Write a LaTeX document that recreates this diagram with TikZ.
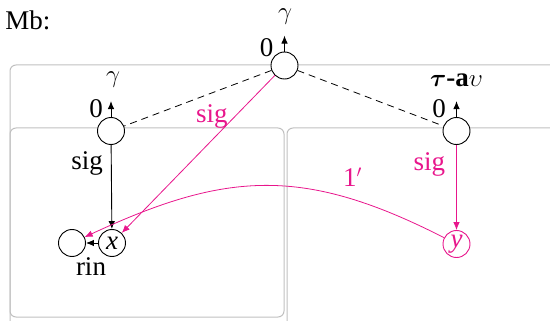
\documentclass[tikz,border=0pt]{standalone}
\usepackage{amsmath}
\usepackage{fontspec}
\setmainfont{Liberation Serif}
\usetikzlibrary{arrows.meta}
\definecolor{sigpink}{RGB}{232,22,140}
\definecolor{boxgray}{RGB}{192,192,192}
\begin{document}
\begin{tikzpicture}[x=1pt, y=-1pt, node distance=40pt, >={Latex[length=8pt,width=6.5pt]},
  every node/.style={font=\fontsize{27}{30}\selectfont, inner sep=0pt},
  port/.style={draw, circle, fill=white, minimum size=27pt, inner sep=0pt, line width=0.9pt},
  frame/.style={draw=boxgray, line width=1pt, rounded corners=6pt},
  wire/.style={line width=0.9pt},
  pinkwire/.style={sigpink, line width=0.8pt}]
\useasboundingbox (0,0) rectangle (550,321);
\clip (0,0) rectangle (550,321);
\node (mb) at (28,20) {Mb:};
% frames
\draw[frame] (10,65) rectangle (570,340);
\draw[frame] (10,128) rectangle (284,317);
\draw[frame] (287,128) rectangle (570,340);
% ports
\node[port] (top) at (284.5,65.5) {};
\node[port] (lft) at (111,131) {};
\node[port] (rgt) at (456.5,131) {};
\node[port] (x) at (112,243) {\itshape x};
\node[port, left of=x] (rin) {};
\node[port, draw=sigpink, text=sigpink] (y) at (456.5,244) {\itshape y};
\coordinate (topout) at ([yshift=16pt]top.north);
\coordinate (lftout) at ([yshift=16pt]lft.north);
\coordinate (rgtout) at ([yshift=16pt]rgt.north);
\draw[->, wire] (top) -- (topout);
\draw[->, wire] (lft) -- (lftout);
\draw[->, wire] (rgt) -- (rgtout);
\node (topzero) at (266.5,47.5) {0};
\node (topgam) at (285,17) {$\gamma$};
\node (lftzero) at (96,109) {0};
\node (lftgam) at (113,80) {$\gamma$};
\node (rgtname) at (456.5,80) {$\boldsymbol{\tau}$\textbf{-a}$\upsilon$};
\node (rgtzero) at (439,109) {0};
\draw[dashed, dash pattern=on 7pt off 5pt, line width=0.8pt] (top) -- (lft);
\draw[dashed, dash pattern=on 7pt off 5pt, line width=0.8pt] (top) -- (rgt);
% connectors
\draw[->, wire] (lft) -- node[left=8pt, pos=0.22] (sigl) {sig} (x);
\draw[->, pinkwire] (top) -- node[left=7pt, pos=0.26] (sigm) {sig} (x);
\draw[->, pinkwire] (rgt) -- node[left=11pt, pos=0.23] (sigr) {sig} (y);
\draw[->, pinkwire] (y) to[out=153, in=25, looseness=1.12] node[above=12pt, pos=0.24] (one) {1$'$} (rin);
\draw[->, wire] (x) -- (rin);
\node (rinlbl) at (91,267) {rin};
\end{tikzpicture}
\end{document}
